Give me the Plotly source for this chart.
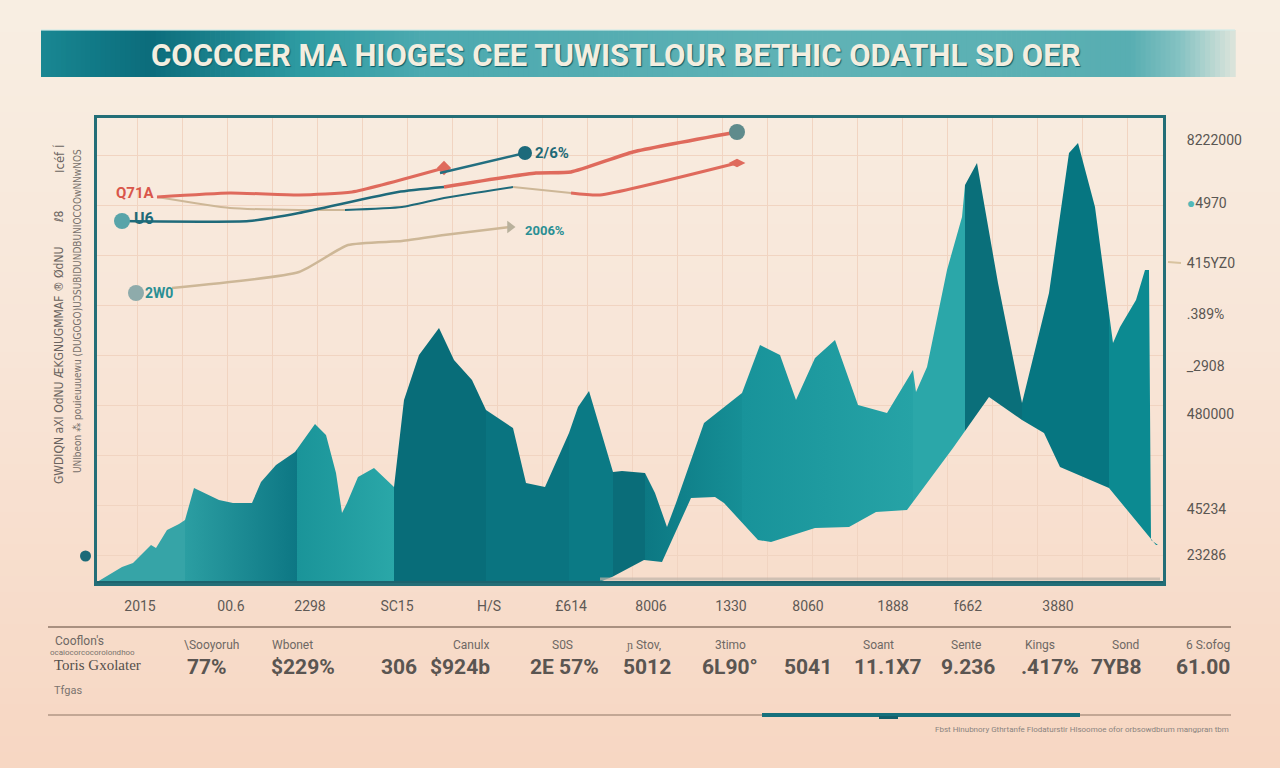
import plotly.graph_objects as go

W, H = 1280, 768

# ---------------- data ----------------
# teal area: upper envelope and lower envelope (time index, value)
area_top_t = [0, 25, 36, 54, 59, 70, 82, 88, 97, 122, 136, 155, 164, 179, 198, 218, 229, 239, 245, 250,
              261, 277, 297, 307, 322, 342, 357, 375, 389, 416, 429, 448, 472, 481, 492, 503, 516, 525, 548, 558,
              570, 579, 607, 645, 663, 683, 699, 718, 738, 761, 790, 816, 819, 830, 850, 865, 868, 880, 901, 925,
              952, 972, 981, 998, 1016, 1023, 1039, 1048, 1052, 1054, 1061]
area_top_v = [1, 16, 20, 38, 35, 53, 59, 63, 95, 83, 80, 80, 101, 118, 131, 159, 148, 110, 70, 80,
              106, 115, 96, 183, 228, 255, 223, 203, 173, 155, 100, 96, 150, 176, 192, 156, 111, 112, 110, 90,
              56, 80, 160, 190, 238, 228, 183, 225, 243, 178, 170, 213, 191, 216, 313, 366, 398, 420, 300, 180,
              290, 430, 440, 376, 240, 256, 283, 313, 313, 43, 38]
area_bot_t = [0, 500, 515, 547, 565, 594, 618, 627, 661, 674, 718, 752, 779, 810, 856, 892, 925, 947, 963, 1012, 1059, 1061]
area_bot_v = [0, 0, 6, 23, 21, 85, 86, 80, 43, 41, 55, 56, 71, 73, 135, 186, 163, 150, 116, 95, 38, 38]

# upper line series
red_a_t = [60, 133, 202, 255, 347];           red_a_v = [386, 390, 388, 391, 415]
teal_a_t = [25, 152, 202, 301, 347];          teal_a_v = [362, 362, 370, 391, 396]
red_b_t = [347, 439, 474, 536, 640];          red_b_v = [396, 410, 411, 431, 451]
beige_a_t = [60, 133, 202, 248];              beige_a_v = [386, 375, 373, 373]
teal_b_t = [248, 305, 347, 416];              teal_b_v = [373, 376, 385, 396]
beige_b_t = [416, 474];                       beige_b_v = [396, 390]
red_c_t = [474, 503, 640];                    red_c_v = [390, 388, 420]
teal_c_t = [343, 428];                        teal_c_v = [410, 430]
beige_c_t = [75, 202, 251, 305, 347, 413];    beige_c_v = [295, 311, 338, 342, 348, 356]
start_mark_t = [25, 39];                      start_mark_v = [362, 290]

# line labels
line_labels = ["Q71A", "U6", "2W0", "2/6%", "2006%"]
line_label_t = [38, 47, 62, 455, 448]
line_label_v = [390, 365, 290, 430, 353]

# axes
x_tick_t = [43, 134, 213, 300, 392, 474, 554, 634, 711, 796, 871, 961]
x_tick_text = ["2015", "00.6", "2298", "SC15", "H/S", "£614", "8006", "1330", "8060", "1888", "f662", "3880"]
y_right_v = [443, 380, 320, 269, 217, 169, 74, 28]
y_right_text = ["8222000", "<span style='color:#52b9b9'>●</span>4970", "415YZ0", ".389%", "_2908",
                "480000", "45234", "23286"]

# stats row
stat_heads = ["\\Sooyoruh", "Wbonet", "Canulx", "S0S", "ɲ Stov,", "3timo", "Soant", "Sente", "Kings", "Sond", "6 S:ofog"]
stat_head_x = [211, 292, 471, 562, 643, 730, 878, 966, 1040, 1125, 1208]
stat_vals = ["77%", "$229%", "306", "$924b", "2E 57%", "5012", "6L90°", "5041", "11.1X7", "9.236", ".417%", "7YB8", "61.00"]
stat_val_x = [207, 303, 399, 460, 564, 647, 730, 808, 888, 968, 1050, 1116, 1203]

title_text = "COCCCER MA HIOGES CEE TUWISTLOUR BETHIC ODATHL SD OER"

# ---------------- helpers (styling) ----------------
def hex2rgb(h):
    h = h.lstrip('#')
    return tuple(int(h[i:i + 2], 16) for i in (0, 2, 4))

def mix(stops, f):
    for (a, ca), (b, cb) in zip(stops[:-1], stops[1:]):
        if a <= f <= b:
            u = 0 if b == a else (f - a) / (b - a)
            r1, g1, b1 = hex2rgb(ca); r2, g2, b2 = hex2rgb(cb)
            return "rgb(%d,%d,%d)" % (r1 + (r2 - r1) * u, g1 + (g2 - g1) * u, b1 + (b2 - b1) * u)
    return stops[-1][1]

def PX(x): return x / W
def PY(y): return 1 - y / H

shapes = []
# background vertical gradient
bg_stops = [(0, '#f8efe3'), (0.45, '#f9e6d8'), (1, '#f7d7c3')]
NB = 48
for i in range(NB):
    shapes.append(dict(type='rect', xref='paper', yref='paper', x0=0, x1=1,
                       y0=1 - (i + 1) / NB - 0.002, y1=1 - i / NB,
                       fillcolor=mix(bg_stops, (i + 0.5) / NB), line=dict(width=0), layer='below'))
# banner horizontal gradient
ban_stops = [(41, '#1b8893'), (90, '#127b88'), (150, '#0c6d7c'), (300, '#2e9ba2'), (420, '#4caab0'),
             (600, '#55adb2'), (800, '#60b3b6'), (1000, '#5cb1b4'), (1130, '#58aeb2'), (1180, '#86c3c3'),
             (1235, '#dde5dc')]
NS = 240
for i in range(NS):
    xa = 41 + (1235 - 41) * i / NS
    xb = 41 + (1235 - 41) * (i + 1) / NS
    shapes.append(dict(type='rect', xref='paper', yref='paper', x0=PX(xa), x1=PX(xb) + 0.0006,
                       y0=PY(77), y1=PY(30), fillcolor=mix(ban_stops, (xa + xb) / 2),
                       line=dict(width=0), layer='below'))
shapes.append(dict(type='line', xref='paper', yref='paper', x0=PX(41), x1=PX(1235), y0=PY(30), y1=PY(30),
                   line=dict(color='rgba(210,235,232,0.8)', width=1.5)))
# separators in the stats area
shapes.append(dict(type='line', xref='paper', yref='paper', x0=PX(48), x1=PX(1231), y0=PY(627), y1=PY(627),
                   line=dict(color='#8f7767', width=1.6)))
shapes.append(dict(type='line', xref='paper', yref='paper', x0=PX(48), x1=PX(1231), y0=PY(715), y1=PY(715),
                   line=dict(color='#8f7767', width=1.2)))
shapes.append(dict(type='line', xref='paper', yref='paper', x0=PX(762), x1=PX(1080), y0=PY(715), y1=PY(715),
                   line=dict(color='#16707c', width=4)))
shapes.append(dict(type='line', xref='paper', yref='paper', x0=PX(879), x1=PX(898), y0=PY(717.5), y1=PY(717.5),
                   line=dict(color='#135f6b', width=3)))
# small beige tick at right axis
shapes.append(dict(type='line', xref='paper', yref='paper', x0=PX(1168), x1=PX(1181), y0=PY(262), y1=PY(263),
                   line=dict(color='#d8c39f', width=2)))
# decorative dot left of the plot
shapes.append(dict(type='circle', xref='paper', yref='paper', x0=PX(80), x1=PX(91), y0=PY(561.5), y1=PY(550.5),
                   fillcolor='#1b6a78', line=dict(width=0)))
# thick bottom axis line + faint shadow band
shapes.append(dict(type='line', xref='x domain', yref='y', x0=0, x1=1, y0=0, y1=0,
                   line=dict(color='#1c646e', width=4)))
shapes.append(dict(type='line', xref='x', yref='y', x0=503, x1=1063, y0=4, y1=4,
                   line=dict(color='rgba(190,180,168,0.7)', width=3)))

# ---------------- traces ----------------
fig = go.Figure()

band_scale = [
    [0.0, '#36a4a7'], [0.0829, '#36a4a7'], [0.0830, '#2b9ea2'], [0.1885, '#0d7784'],
    [0.1886, '#1a9499'], [0.2799, '#2aa7a8'], [0.2800, '#086d79'], [0.3666, '#086d79'],
    [0.3667, '#0a7480'], [0.4449, '#0a7480'], [0.4450, '#0b7a85'], [0.4863, '#0b7a85'],
    [0.4864, '#0a6d79'], [0.5165, '#0a6d79'], [0.5166, '#0c7883'], [0.6079, '#168f96'],
    [0.6080, '#18939a'], [0.7691, '#26a3a6'], [0.7692, '#2ba7a9'], [0.8181, '#2ba7a9'],
    [0.8182, '#0a6f7a'], [0.8718, '#0a6f7a'], [0.8719, '#067681'], [0.9538, '#067681'],
    [0.9539, '#0c8a91'], [1.0, '#0c8a91']]

fig.add_trace(go.Scatter(x=area_bot_t, y=area_bot_v, mode='lines', line=dict(width=0),
                         hoverinfo='skip', showlegend=False))
fig.add_trace(go.Scatter(x=area_top_t, y=area_top_v, mode='lines', line=dict(width=0),
                         fill='tonexty',
                         fillgradient=dict(type='horizontal', colorscale=band_scale, start=0, stop=1061),
                         hoverinfo='skip', showlegend=False))

RED, TEAL, BEIGE = '#df6a5c', '#1f6a7a', '#cdb797'

def add_line(t, v, color, width, end_marker=None, msize=10, mcolor=None):
    fig.add_trace(go.Scatter(x=t, y=v, mode='lines', line=dict(color=color, width=width, shape='spline', smoothing=0.5),
                             hoverinfo='skip', showlegend=False))
    if end_marker:
        fig.add_trace(go.Scatter(x=[t[-1]], y=[v[-1]], mode='markers',
                                 marker=dict(symbol=end_marker, size=msize, color=mcolor or color),
                                 hoverinfo='skip', showlegend=False))

add_line(beige_c_t, beige_c_v, BEIGE, 2.5, 'triangle-right', 11, '#b9b19c')
add_line(beige_a_t, beige_a_v, BEIGE, 2)
add_line(teal_b_t, teal_b_v, TEAL, 2)
add_line(beige_b_t, beige_b_v, BEIGE, 2)
add_line(red_c_t, red_c_v, RED, 3, 'diamond-wide', 12)
add_line(teal_a_t, teal_a_v, TEAL, 2.5)
add_line(red_a_t, red_a_v, RED, 3, 'diamond', 11)
add_line(red_b_t, red_b_v, RED, 3.5, 'circle', 16, '#5f8b8c')
add_line(teal_c_t, teal_c_v, '#236f80', 2.5, 'circle', 14, '#1c6a7b')

fig.add_trace(go.Scatter(x=start_mark_t, y=start_mark_v, mode='markers',
                         marker=dict(size=16, color=['#58a4a9', '#8eabab']),
                         hoverinfo='skip', showlegend=False))

# invisible carrier for the secondary (label) axes
fig.add_trace(go.Scatter(x=[500], y=[200], mode='markers', xaxis='x2', yaxis='y2',
                         marker=dict(size=1, opacity=0), hoverinfo='skip', showlegend=False))

# ---------------- annotations ----------------
ann = []
lab_colors = ['#d9564a', '#1d6a78', '#2a8f94', '#1d6a78', '#2a8f94']
lab_sizes = [15, 16, 14, 15, 13]
for txt, t, v, c, s in zip(line_labels, line_label_t, line_label_v, lab_colors, lab_sizes):
    ann.append(dict(x=t, y=v, xref='x', yref='y', text=txt, showarrow=False, xanchor='center', yanchor='middle',
                    font=dict(family='Roboto', size=s, color=c, weight='bold')))

def pann(x, y, text, size, color, family='Roboto', xanchor='center', **kw):
    ann.append(dict(x=PX(x), y=PY(y), xref='paper', yref='paper', text=text, showarrow=False,
                    xanchor=xanchor, yanchor='middle', font=dict(family=family, size=size, color=color, **kw)))

pann(616, 55, title_text, 31, '#f3eee0', weight='bold', shadow='1px 1px 1px #0b5c68')

# rotated left axis texts
for y, txt, size in [(366, 'GWDIQN aXI OdNU ÆKGNUGMMAF ® ØdNU', 12), (217, 'ℓ8', 12), (159, 'Icéf Í', 13)]:
    ann.append(dict(x=PX(59), y=PY(y), xref='paper', yref='paper', textangle=-90, showarrow=False,
                    xanchor='center', yanchor='middle', text=txt,
                    font=dict(family='DejaVu Sans Condensed', size=size, color='#6b6460')))
ann.append(dict(x=PX(77), y=PY(311), xref='paper', yref='paper', textangle=-90, showarrow=False,
                xanchor='center', yanchor='middle',
                text='UNlbeon ⁂ pouieuuuewu (DUGOGO)UƆSUBIDUNDBUNIOCOOwNNwNOS',
                font=dict(family='DejaVu Sans Condensed', size=10, color='#77706b')))

# stats block
for txt, x in zip(stat_heads, stat_head_x):
    pann(x, 645, txt, 12, '#6e6864')
for txt, x in zip(stat_vals, stat_val_x):
    pann(x, 667, txt, 21, '#5a5551', weight='bold')
pann(53, 641, "Cooflon's", 12, '#6e6864', xanchor='left')
pann(48, 652, "ocaiocorcocorolondhoo", 8, '#7a736e', xanchor='left')
pann(52, 665, "Toris Gxolater", 15, '#55504c', family='Liberation Serif', xanchor='left')
pann(52, 690, "Tfgas", 11, '#7a736e', xanchor='left')
pann(1231, 729, "Fbst Hinubnory Gthrtanfe Flodaturstir Hlsoomoe ofor orbsowdbrum mangpran tbm", 8, '#8a8480',
     xanchor='right')

# ---------------- layout ----------------
xdom = [97 / W, 1163 / W]
ydom = [1 - 583 / H, 1 - 118 / H]
GRID = '#f1d4c1'
AX = '#236e77'

fig.update_layout(
    width=W, height=H, margin=dict(l=0, r=0, t=0, b=0),
    paper_bgcolor='#f8e6d8', plot_bgcolor='rgba(0,0,0,0)',
    showlegend=False, shapes=shapes, annotations=ann,
    xaxis=dict(domain=xdom, range=[0, 1066], showgrid=True, gridcolor=GRID, gridwidth=1,
               tick0=40, dtick=45, showticklabels=False, zeroline=False,
               showline=True, mirror=True, linecolor=AX, linewidth=2.5, ticks='', fixedrange=True),
    yaxis=dict(domain=ydom, range=[0, 465], showgrid=True, gridcolor=GRID, gridwidth=1,
               tick0=28, dtick=50, showticklabels=False, zeroline=False,
               showline=True, mirror=True, linecolor=AX, linewidth=2.5, ticks='', fixedrange=True),
    xaxis2=dict(overlaying='x', anchor='y2', side='bottom', range=[0, 1066], showgrid=False, zeroline=False,
                tickmode='array', tickvals=x_tick_t, ticktext=x_tick_text, ticks='outside', ticklen=10,
                tickcolor='rgba(0,0,0,0)', tickfont=dict(family='Roboto', size=14, color='#5e5955'),
                showline=False, fixedrange=True),
    yaxis2=dict(overlaying='y', anchor='x2', side='right', range=[0, 465], showgrid=False, zeroline=False,
                tickmode='array', tickvals=y_right_v, ticktext=y_right_text, ticks='outside', ticklen=20,
                tickcolor='rgba(0,0,0,0)', tickfont=dict(family='Roboto', size=14, color='#5a5652'),
                showline=False, fixedrange=True),
)

fig.write_html("out.html", config={'displayModeBar': False},
               post_script="document.body.style.margin='0';document.body.style.padding='0';"
                           "document.body.style.overflow='hidden';")
